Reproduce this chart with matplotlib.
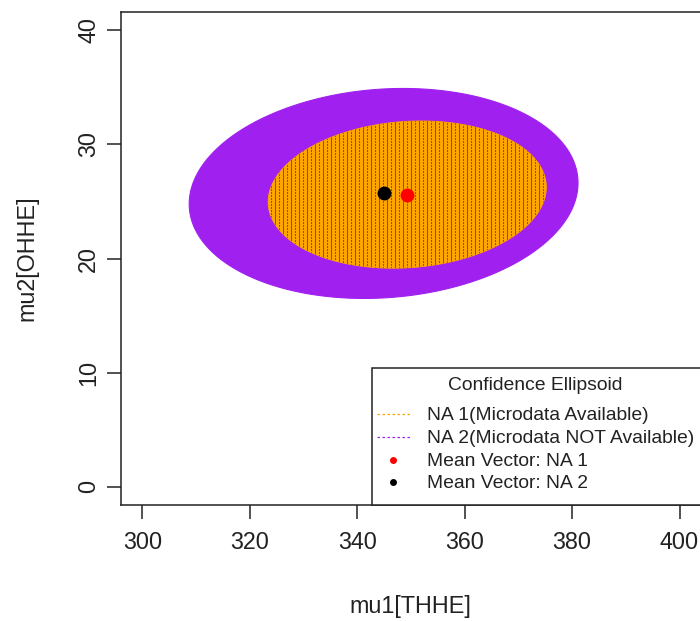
import numpy as np
import matplotlib
matplotlib.use("Agg")
import matplotlib.pyplot as plt
from matplotlib.patches import Polygon, Rectangle
from matplotlib.lines import Line2D
from matplotlib.collections import LineCollection

plt.rcParams['font.family'] = ['Liberation Sans', 'DejaVu Sans']

# Mean vectors (THHE, OHHE)
mean_na1 = [349.3, 25.6]
mean_na2 = [344.9, 25.7]

# Confidence ellipse extents: half-width in x, half-height in y, correlation
ell_na1 = [25.9, 6.45, 0.10]
ell_na2 = [36.2, 9.2, 0.10]

x_ticks = [300, 320, 340, 360, 380, 400]
y_ticks = [0, 10, 20, 30, 40]

legend_title = "Confidence Ellipsoid"
legend_labels = ["NA 1(Microdata Available)", "NA 2(Microdata NOT Available)",
                 "Mean Vector: NA 1", "Mean Vector: NA 2"]

ORANGE = "#FFA500"
PURPLE = "#A020F0"

W, H = 700, 621
fig = plt.figure(figsize=(W / 100, H / 100), dpi=100)


def fx(px):
    return px / W


def fy(py):
    return 1 - py / H


AX_LEFT, AX_RIGHT = 121, 701
ax = fig.add_axes([fx(AX_LEFT), fy(505), (AX_RIGHT - AX_LEFT) / W, (505 - 12) / H])
XLIM = (296, 404)
ax.set_xlim(*XLIM)
ax.set_ylim(-1.6, 41.6)
px_per_unit = (AX_RIGHT - AX_LEFT) / (XLIM[1] - XLIM[0])


def ellipse_xy(center, params, scale=1.0, n=400):
    sx, sy, rho = params
    t = np.linspace(0, 2 * np.pi, n)
    x = center[0] + scale * sx * np.cos(t)
    y = center[1] + scale * sy * (rho * np.cos(t) + np.sqrt(1 - rho ** 2) * np.sin(t))
    return x, y


# NA 2 region: solid purple
x2, y2 = ellipse_xy(mean_na2, ell_na2)
ax.add_patch(Polygon(np.column_stack([x2, y2]), closed=True, facecolor=PURPLE,
                     edgecolor=PURPLE, linewidth=0.8, zorder=1))

# NA 1 region: orange, with the purple showing through the dotted strokes
x1, y1 = ellipse_xy(mean_na1, ell_na1)
na1_patch = Polygon(np.column_stack([x1, y1]), closed=True, facecolor=ORANGE,
                    edgecolor=ORANGE, linewidth=0.6, zorder=2)
ax.add_patch(na1_patch)

step = 4.0 / px_per_unit  # stroke columns every 4 px
cols = XLIM[0] + (np.arange(0, 150) + 0.5) * step
cols = cols[(cols > x1.min()) & (cols < x1.max())]
for parity, offset in [(0, 0.0), (1, 1.8)]:
    segs = [[(c, y1.min() - 1), (c, y1.max() + 1)] for c in cols[parity::2]]
    lc = LineCollection(segs, colors=PURPLE, linewidths=0.7,
                        linestyles=[(offset, (1.8, 1.8))], antialiaseds=False,
                        zorder=3)
    lc.set_clip_path(na1_patch)
    ax.add_collection(lc)

# Mean vectors
ax.plot([mean_na1[0]], [mean_na1[1]], 'o', color='#FF0000', markersize=10,
        markeredgewidth=0, zorder=4)
ax.plot([mean_na2[0]], [mean_na2[1]], 'o', color='black', markersize=10,
        markeredgewidth=0, zorder=4)

# Axes styling
for side in ['top', 'bottom', 'left', 'right']:
    ax.spines[side].set_color('#222222')
    ax.spines[side].set_linewidth(1.1)
ax.set_xticks(x_ticks)
ax.set_yticks(y_ticks)
ax.set_xticklabels([str(v) for v in x_ticks])
ax.set_yticklabels([str(v) for v in y_ticks], rotation=90, va='center')
ax.tick_params(axis='both', direction='out', length=10, width=1.1, color='#222222',
               labelsize=16.8, labelcolor='#222222')
ax.tick_params(axis='x', pad=9)
ax.tick_params(axis='y', pad=5)

fig.text(fx(410), fy(606), "mu1[THHE]", ha='center', va='center', fontsize=16.8,
         color='#222222')
fig.text(fx(27), fy(258), "mu2[OHHE]", ha='center', va='center', fontsize=16.8,
         rotation=90, color='#222222')

# Legend box in the bottom-right corner of the plot region
fig.patches.append(Rectangle((fx(372), fy(505)), (701 - 372) / W, (505 - 368) / H,
                             transform=fig.transFigure, facecolor='white',
                             edgecolor='#222222', linewidth=1.1, zorder=5))
fig.text(fx(535), fy(385), legend_title, ha='center', va='center', fontsize=13.9,
         color='#222222', zorder=6)
row_y = [415.5, 438.5, 461, 483.5]
for i, lab in enumerate(legend_labels):
    fig.text(fx(427), fy(row_y[i]), lab, ha='left', va='center', fontsize=13.9,
             color='#222222', zorder=6)
for i, col in enumerate([ORANGE, PURPLE]):
    fig.lines.append(Line2D([fx(377), fx(410)], [fy(row_y[i] - 2), fy(row_y[i] - 2)],
                            transform=fig.transFigure, color=col, linewidth=0.9,
                            linestyle=(0, (2, 2)), zorder=6))
for i, col in zip([2, 3], ['#FF0000', 'black']):
    fig.lines.append(Line2D([fx(393)], [fy(row_y[i] - 1.5)], transform=fig.transFigure,
                            marker='o', color=col, markersize=5, markeredgewidth=0,
                            linestyle='none', zorder=6))

fig.savefig("out.png", dpi=100)
